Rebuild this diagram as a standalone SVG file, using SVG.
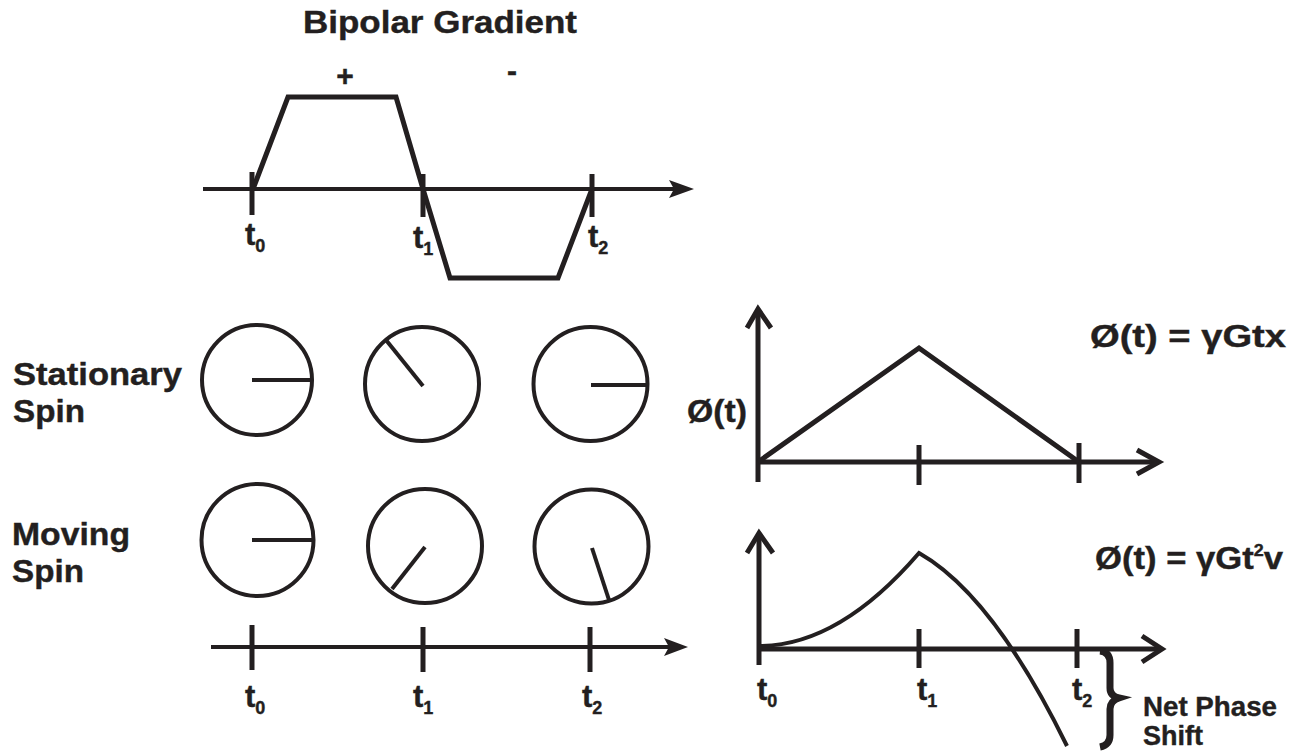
<svg xmlns="http://www.w3.org/2000/svg" width="1298" height="756" viewBox="0 0 1298 756">
<style>
  .ln{stroke:#231f20;fill:none;stroke-width:5;stroke-linecap:butt;stroke-linejoin:miter}
  .ax{stroke:#231f20;fill:none;stroke-width:4}
  .cir{stroke:#231f20;fill:none;stroke-width:4}
  .hand{stroke:#231f20;stroke-width:4}
  .ah{fill:#231f20}
  .curve{stroke:#231f20;fill:none;stroke-width:4}
  .brace{stroke:#231f20;fill:none;stroke-width:7;stroke-linecap:butt}
  text{font-family:"Liberation Sans",Arial,Helvetica,sans-serif;font-weight:bold;fill:#231f20;stroke:#231f20;stroke-width:0.4}
  .lbl{font-size:32px}
  .t{font-size:31px}
  .sub{font-size:18px}
  .eq{font-size:31px}
</style>
<rect width="1298" height="756" fill="#ffffff"/>

<g id="gradient">
  <text x="303" y="33" class="lbl" textLength="274" lengthAdjust="spacingAndGlyphs">Bipolar Gradient</text>
  <text x="345" y="86" font-size="30" text-anchor="middle">+</text>
  <text x="512" y="81" font-size="30" text-anchor="middle">-</text>
  <polyline class="ln" points="253,189 288,97 396,97 423,189 450,278 558,278 592,189"/>
  <line class="ax" x1="203" y1="189" x2="676" y2="189"/>
  <polygon class="ah" points="669,180 694,189 669,198 674,189"/>
  <line class="ln" x1="252" y1="172" x2="252" y2="215"/>
  <line class="ln" x1="423" y1="174" x2="423" y2="217"/>
  <line class="ln" x1="592" y1="174" x2="592" y2="217"/>
  <text x="245" y="245" class="t">t<tspan class="sub" dy="7">0</tspan></text>
  <text x="413" y="248" class="t">t<tspan class="sub" dy="7">1</tspan></text>
  <text x="588" y="247" class="t">t<tspan class="sub" dy="7">2</tspan></text>
</g>

<g id="stationary-label">
  <text x="13" y="385" class="lbl" textLength="169" lengthAdjust="spacingAndGlyphs">Stationary</text>
  <text x="13" y="422" class="lbl" textLength="72" lengthAdjust="spacingAndGlyphs">Spin</text>
</g>
<g id="moving-label">
  <text x="12" y="545" class="lbl" textLength="118" lengthAdjust="spacingAndGlyphs">Moving</text>
  <text x="12" y="582" class="lbl" textLength="72" lengthAdjust="spacingAndGlyphs">Spin</text>
</g>

<g id="stationary-t0">
  <circle class="cir" cx="257" cy="380" r="55"/>
  <line class="hand" x1="252" y1="380" x2="312" y2="380"/>
</g>
<g id="stationary-t1">
  <circle class="cir" cx="422" cy="384" r="57"/>
  <line class="hand" x1="423" y1="386" x2="386" y2="340"/>
</g>
<g id="stationary-t2">
  <circle class="cir" cx="590.5" cy="384" r="57"/>
  <line class="hand" x1="591" y1="385" x2="647" y2="385"/>
</g>
<g id="moving-t0">
  <circle class="cir" cx="257.5" cy="540" r="56"/>
  <line class="hand" x1="252" y1="540" x2="313" y2="540"/>
</g>
<g id="moving-t1">
  <circle class="cir" cx="425" cy="546" r="57"/>
  <line class="hand" x1="425" y1="547" x2="392" y2="589"/>
</g>
<g id="moving-t2">
  <circle class="cir" cx="591.5" cy="546.5" r="57"/>
  <line class="hand" x1="592" y1="548" x2="609" y2="600"/>
</g>

<g id="time-axis">
  <line class="ax" x1="211" y1="647" x2="670" y2="647"/>
  <polygon class="ah" points="664,638 688,647 664,656 669,647"/>
  <line class="ln" x1="252" y1="625" x2="252" y2="670"/>
  <line class="ln" x1="423" y1="627" x2="423" y2="672"/>
  <line class="ln" x1="590" y1="627" x2="590" y2="672"/>
  <text x="245" y="707" class="t">t<tspan class="sub" dy="7">0</tspan></text>
  <text x="413" y="707" class="t">t<tspan class="sub" dy="7">1</tspan></text>
  <text x="582" y="707" class="t">t<tspan class="sub" dy="7">2</tspan></text>
</g>

<g id="phase-stationary">
  <polyline class="ln" points="747,328 758,309 771,328"/>
  <line class="ln" x1="758" y1="309" x2="758" y2="482"/>
  <line class="ln" x1="758" y1="462" x2="1158" y2="462"/>
  <polyline class="ln" points="1137,450 1159,462 1137,474"/>
  <line class="ln" x1="919" y1="445" x2="919" y2="485"/>
  <line class="ln" x1="1079" y1="443" x2="1079" y2="483"/>
  <polyline class="ln" points="758,462 919,348 1079,462"/>
  <text x="687" y="422" class="eq" textLength="60" lengthAdjust="spacingAndGlyphs">Ø(t)</text>
  <text x="1090" y="347" class="eq" textLength="196" lengthAdjust="spacingAndGlyphs">Ø(t) = γGtx</text>
</g>

<g id="phase-moving">
  <polyline class="ln" points="747,553 759,533 773,553"/>
  <line class="ln" x1="759" y1="533" x2="759" y2="665"/>
  <line class="ln" x1="759" y1="649" x2="1161" y2="649"/>
  <polyline class="ln" points="1142,636 1162,649 1142,662"/>
  <line class="ln" x1="919" y1="629" x2="919" y2="668"/>
  <line class="ln" x1="1077" y1="629" x2="1077" y2="668"/>
  <path class="curve" d="M759,646 Q839,646 919,553 Q993,595 1067,746"/>
  <text x="1095" y="569" class="eq" textLength="188" lengthAdjust="spacingAndGlyphs">Ø(t) = γGt<tspan font-size="16" dy="-13">2</tspan><tspan dy="13">v</tspan></text>
  <text x="757" y="700" class="t">t<tspan class="sub" dy="7">0</tspan></text>
  <text x="917" y="700" class="t">t<tspan class="sub" dy="7">1</tspan></text>
  <text x="1072" y="700" class="t">t<tspan class="sub" dy="7">2</tspan></text>
</g>

<g id="net-phase-shift">
  <path class="brace" d="M1100,651 Q1110,652 1110,663 L1110,688 Q1110,696 1119,698 Q1110,701 1110,709 L1110,735 Q1110,745 1100,747"/>
  <text x="1143" y="716" font-size="27" textLength="134" lengthAdjust="spacingAndGlyphs">Net Phase</text>
  <text x="1143" y="745" font-size="27" textLength="60" lengthAdjust="spacingAndGlyphs">Shift</text>
</g>
</svg>
